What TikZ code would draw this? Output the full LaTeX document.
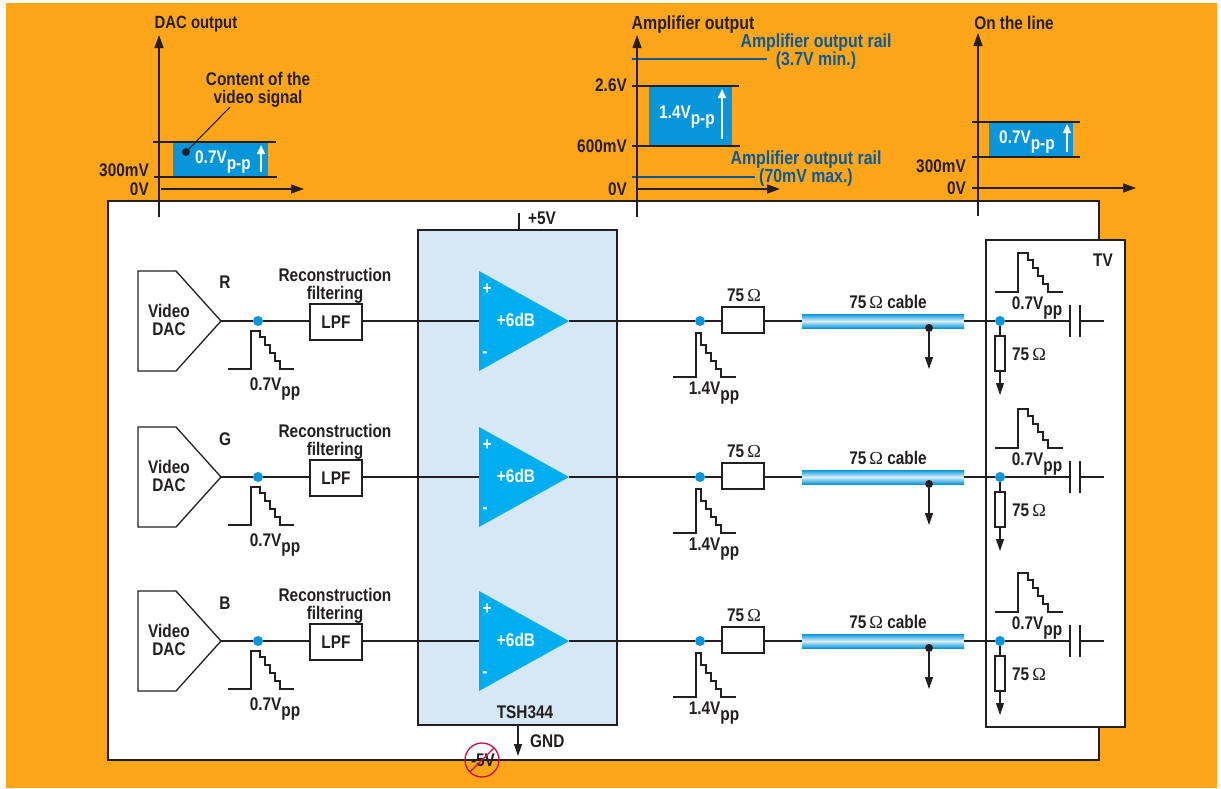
\documentclass[tikz,border=0pt]{standalone}
\usepackage{fontspec}
\setmainfont{Liberation Sans}[FakeStretch=0.84]
\newfontfamily\ohmfont{Liberation Serif}
\usetikzlibrary{arrows.meta}
\definecolor{bgor}{RGB}{255,165,25}
\definecolor{ink}{RGB}{35,31,32}
\definecolor{sigblue}{RGB}{8,150,218}
\definecolor{ampblue}{RGB}{0,174,239}
\definecolor{chip}{RGB}{214,232,245}
\definecolor{railblue}{RGB}{10,90,150}
\definecolor{nored}{RGB}{200,16,70}
\tikzset{
  x=1pt,y=-1pt,
  wire/.style={draw=ink,line width=1.1pt},
  capplate/.style={draw=ink,line width=1.3pt},
  box/.style={draw=ink,line width=1.3pt,fill=white},
  axis/.style={draw=ink,line width=1.3pt,-{Triangle[length=13pt,width=9pt]}},
  down/.style={draw=ink,line width=1.1pt,-{Triangle[length=12pt,width=8pt]}},
  upw/.style={draw=white,line width=1.6pt,-{Triangle[length=9pt,width=8pt]}},
  tick/.style={draw=ink,line width=1.1pt},
  rail/.style={draw=railblue,line width=1.3pt},
  lab/.style={font=\bfseries\fontsize{18.3}{18}\selectfont,text=ink,inner sep=0pt,align=center},
  biglab/.style={lab,font=\bfseries\fontsize{18.9}{18}\selectfont},
  smalllab/.style={lab,font=\bfseries\fontsize{17.7}{18}\selectfont},
  railab/.style={biglab,text=railblue},
  wlab/.style={lab,text=white},
  dot/.style={circle,fill=sigblue,inner sep=0pt,minimum size=10pt},
  bdot/.style={circle,fill=ink,inner sep=0pt,minimum size=8pt},
  blockbox/.style={box,inner sep=0pt},
}
\newcommand{\vpp}[1]{#1V\raisebox{-0.3em}{pp}}
\newcommand{\vpmp}[1]{#1V\raisebox{-0.3em}{p-p}}
\newcommand{\ohm}{{\ohmfont\mdseries Ω}}
% #1,#2 top of rising edge; #3 flat top width; #4 height; #5 tail
\newcommand{\stair}[5]{%
  \draw[ink,line width=1.1pt] (#1-23,#2+#4) -- ++(23,0) -- ++(0,-#4) -- ++(#3,0) -- ++(0,#4-32)
   -- ++(5,0) -- ++(0,8) -- ++(5,0) -- ++(0,8) -- ++(5,0) -- ++(0,8) -- ++(5,0) -- ++(0,8) -- ++(5,0) -- ++(#5,0);}
\begin{document}
\begin{tikzpicture}
\useasboundingbox (0,0) rectangle (1221,788);
\fill[white] (0,0) rectangle (1221,788);
\fill[bgor] (6,3) rectangle (1217,788);
\draw[box] (108,201) rectangle (1099,760);

% top charts
\fill[sigblue] (173,143) rectangle (268,177);
\draw[tick] (153,142) -- (276,142);
\draw[tick] (154,177) -- (277,177);
\draw[axis] (159,217) -- (159,35);
\draw[axis] (161,189) -- (304,189);
\node[smalllab] (t1) at (196,24) {DAC output};
\node[lab] (t2) at (258,90) {Content of the\\video signal};
\node[bdot] (pin) at (186,152) {};
\coordinate (pinend) at (230,107);
\draw[ink,line width=1.1pt] (pin) -- (pinend);
\node[wlab,anchor=west] (v1) at (195,162) {\vpmp{0.7}};
\draw[upw] (261,172) -- (261,145);
\node[lab,anchor=east] (a1) at (149,170) {300mV};
\node[lab,anchor=east] (a2) at (149,189) {0V};

\fill[sigblue] (649,86) rectangle (732,145);
\draw[tick] (632,86) -- (739,86);
\draw[tick] (632,146) -- (740,146);
\draw[rail] (632,59) -- (767,59);
\draw[rail] (632,177) -- (755,177);
\draw[axis] (637,217) -- (637,35);
\draw[axis] (637,189) -- (780,189);
\node[biglab] (t3) at (693,25) {Amplifier output};
\node[railab] (r1) at (816,52) {Amplifier output rail\\(3.7V min.)};
\node[railab] (r2) at (806,169) {Amplifier output rail\\(70mV max.)};
\node[wlab,anchor=west] (v2) at (659,117) {\vpmp{1.4}};
\draw[upw] (722,139) -- (722,89);
\node[lab,anchor=east] (b1) at (627,85) {2.6V};
\node[lab,anchor=east] (b2) at (627,146) {600mV};
\node[lab,anchor=east] (b3) at (627,189) {0V};

\fill[sigblue] (989,123) rectangle (1073,156);
\draw[tick] (972,122) -- (1080,122);
\draw[tick] (972,157) -- (1080,157);
\draw[axis] (978,216) -- (978,33);
\draw[axis] (972,188) -- (1136,188);
\node[lab] (t4) at (1014,23) {On the line};
\node[wlab,anchor=west] (v3) at (999,142) {\vpmp{0.7}};
\draw[upw] (1067,152) -- (1067,124);
\node[lab,anchor=east] (c1) at (966,166) {300mV};
\node[lab,anchor=east] (c2) at (966,188) {0V};

% TV box and chip
\draw[box] (986,240) rectangle (1125,727);
\node[lab] (tv) at (1103,260) {TV};
\draw[draw=ink,line width=1.3pt,fill=chip] (418,230) rectangle (617,725);
\coordinate (chiptop) at (519,230);
\coordinate (vplus) at (519,213);
\draw[wire] (chiptop) -- (vplus);
\node[lab,anchor=west] (pfive) at (528,218) {+5V};
\node[lab] (tsh) at (525,712) {TSH344};
\coordinate (chipbot) at (518,725);
\coordinate (gndtip) at (518,756);
\draw[down] (chipbot) -- (gndtip);
\node[lab,anchor=west] (gnd) at (530,741) {GND};
\node[lab] (mfive) at (483,760) {-5V};
\draw[nored,line width=1.3pt] (482,760) circle (17);
\draw[nored,line width=1.3pt] (470,772) -- (494,748);

% channels
\foreach \y/\n/\lbly in {321/R/282,477/G/439,641/B/603}{
  \coordinate (dacout\n) at (221,\y);
  \draw[box] (138,\y-50) -- (176,\y-50) -- (dacout\n) -- (176,\y+50) -- (138,\y+50) -- cycle;
  \node[lab] (daclab\n) at (169,\y-1.5) {Video\\DAC};
  \node[lab] (ch\n) at (225,\lbly) {\n};
  \node[blockbox,minimum width=52pt,minimum height=36pt,font=\bfseries\fontsize{18.3}{18}\selectfont,text=ink] (lpf\n) at (336,\y+1) {LPF};
  \node[dot] (da\n) at (258,\y) {};
  \coordinate (ampin\n) at (479,\y);
  \coordinate (ampout\n) at (569,\y);
  \draw[wire] (dacout\n) -- (da\n) -- (lpf\n.west |- da\n);
  \draw[wire] (lpf\n.east |- da\n) -- (ampin\n);
  \node[lab] (rec\n) at (335,\y-35.5) {Reconstruction\\filtering};
  \stair{251}{\y+10}{9}{38}{9}
  \node[lab] (vd\n) at (275,\y+68) {\vpp{0.7}};
  \fill[ampblue] (479,\y-50) -- (ampout\n) -- (479,\y+50) -- cycle;
  \node[wlab] (pl\n) at (487,\y-32) {+};
  \node[wlab] (mi\n) at (485,\y+34) {-};
  \node[wlab] (gain\n) at (516,\y-1) {+6dB};
  \node[dot] (db\n) at (700,\y) {};
  \node[blockbox,minimum width=42pt,minimum height=26pt] (r\n) at (743,\y-1) {};
  \draw[wire] (ampout\n) -- (db\n) -- (r\n.west |- db\n);
  \stair{696}{\y+12}{5}{44}{10}
  \node[lab] (vb\n) at (714,\y+72) {\vpp{1.4}};
  \node[lab] (rl\n) at (744,\y-26) {75\,\ohm};
  \coordinate (cabin\n) at (802,\y);
  \coordinate (cabout\n) at (964,\y);
  \draw[wire] (r\n.east |- cabin\n) -- (cabin\n);
  \shade[top color=sigblue,bottom color=sigblue,middle color=white!85!sigblue] (802,\y-7) rectangle (964,\y+7);
  \node[lab] (cl\n) at (888,\y-19) {75\,\ohm{} cable};
  \node[bdot,minimum size=8pt] (g\n) at (929,\y+7) {};
  \coordinate (gt\n) at (929,\y+48);
  \draw[down] (g\n) -- (gt\n);
  \node[dot] (dc\n) at (1000,\y) {};
  \coordinate (capl\n) at (1070,\y);
  \coordinate (capr\n) at (1080,\y);
  \coordinate (tvend\n) at (1104,\y);
  \draw[wire] (cabout\n) -- (dc\n) -- (capl\n);
  \stair{1018}{\y-68}{10}{39}{10}
  \node[lab] (vc\n) at (1037,\y-13) {\vpp{0.7}};
  \draw[capplate] (1070,\y-16) -- (1070,\y+16);
  \draw[capplate] (1080,\y-16) -- (1080,\y+16);
  \draw[wire] (capr\n) -- (tvend\n);
  \node[blockbox,minimum width=10pt,minimum height=35pt] (s\n) at (1000,\y+32.5) {};
  \coordinate (st\n) at (1000,\y+74);
  \draw[wire] (dc\n) -- (s\n);
  \draw[down] (s\n) -- (st\n);
  \node[lab] (sl\n) at (1029,\y+33) {75\,\ohm};
}
\end{tikzpicture}
\end{document}
